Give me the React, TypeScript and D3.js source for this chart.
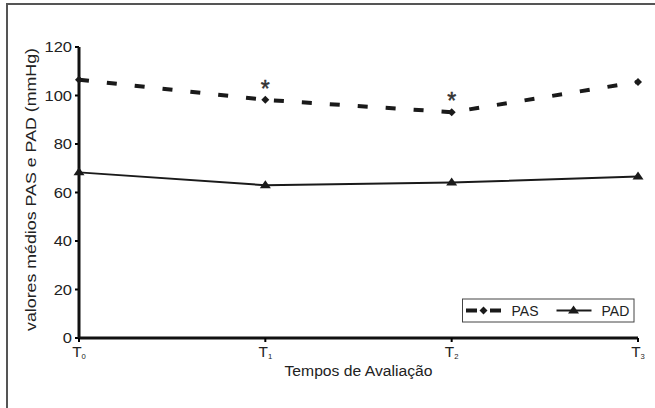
import React from 'react'
import * as d3 from 'd3'

const tempos = ['0', '1', '2', '3']
const pas = [106.5, 98.2, 93.1, 105.6]
const pad = [68.3, 63, 64.1, 66.6]
const signif = [false, true, true, false]
const yTicks = [0, 20, 40, 60, 80, 100, 120]

export default function App() {
  const width = 655
  const height = 408
  const margin = { top: 47, right: 17, bottom: 70, left: 79 }
  const innerW = width - margin.left - margin.right
  const innerH = height - margin.top - margin.bottom

  const x = d3.scalePoint<string>().domain(tempos).range([0, innerW])
  const y = d3.scaleLinear().domain([0, 120]).range([innerH, 0])

  const line = d3.line<number>()
    .x((_, i) => x(tempos[i]) ?? 0)
    .y(d => y(d))

  const font = 'Liberation Sans, Arial, sans-serif'
  const diamond = (cx: number, cy: number, r = 4) =>
    `M${cx},${cy - r}L${cx + r},${cy}L${cx},${cy + r}L${cx - r},${cy}Z`
  const tri = (cx: number, cy: number) =>
    `M${cx},${cy - 5}L${cx + 5.5},${cy + 3}L${cx - 5.5},${cy + 3}Z`

  return (
    <svg width={width} height={height} style={{ position: 'absolute', left: 0, top: 0 }}>
      <rect x={0} y={0} width={width} height={height} fill="#fff" />
      <path d={`M7,${height}V4H${width}`} fill="none" stroke="#555" strokeWidth={2} />
      <g transform={`translate(${margin.left},${margin.top})`} fontFamily={font} fontSize={14} fill="#222">
        {/* eixo y */}
        {yTicks.map(t => (
          <g key={t} transform={`translate(0,${y(t)})`}>
            <line x1={-4} x2={0} stroke="#000" strokeWidth={2} />
            <text transform="translate(-7,0) scale(1.18,1)" dy="0.36em" textAnchor="end">{t}</text>
          </g>
        ))}
        <line x1={0} x2={0} y1={y(120)} y2={y(0)} stroke="#111" strokeWidth={3} />
        {/* eixo x */}
        <line x1={0} x2={innerW} y1={y(0)} y2={y(0)} stroke="#111" strokeWidth={3} />
        {tempos.map(t => (
          <g key={t} transform={`translate(${x(t)},${y(0)})`}>
            <line y1={0} y2={4} stroke="#000" strokeWidth={2} />
            <text transform="translate(0,19) scale(1.1,1)" textAnchor="middle">
              T<tspan fontSize={7} dy={2}>{t}</tspan>
            </text>
          </g>
        ))}
        <text x={innerW / 2} y={innerH + 38} textAnchor="middle"
          textLength={148} lengthAdjust="spacingAndGlyphs">
          Tempos de Avaliação
        </text>
        <text transform={`translate(-43,${innerH / 2 - 3}) rotate(-90)`} textAnchor="middle"
          textLength={283} lengthAdjust="spacingAndGlyphs">
          valores médios PAS e PAD (mmHg)
        </text>

        {/* séries */}
        <path d={line(pas) ?? ''} fill="none" stroke="#1a1a1a" strokeWidth={4} strokeDasharray="10 18" />
        <path d={line(pad) ?? ''} fill="none" stroke="#1a1a1a" strokeWidth={2} />
        {pas.map((v, i) => (
          <path key={'s' + i} d={diamond(x(tempos[i]) ?? 0, y(v))} fill="#1a1a1a" />
        ))}
        {pad.map((v, i) => (
          <path key={'d' + i} d={tri(x(tempos[i]) ?? 0, y(v))} fill="#1a1a1a" />
        ))}
        {pas.map((v, i) => signif[i] ? (
          <text key={'a' + i} x={x(tempos[i])} y={y(v) - 3} textAnchor="middle" fontSize={23}
            fill="#333" stroke="#333" strokeWidth={0.5}>*</text>
        ) : null)}

        {/* legenda */}
        <g transform={`translate(${462.5 - margin.left},${299 - margin.top})`}>
          <rect x={0} y={0} width={171.5} height={23} fill="#fff" stroke="#444" strokeWidth={1} />
          <line x1={3.5} x2={38.5} y1={11.5} y2={11.5} stroke="#1a1a1a" strokeWidth={4} strokeDasharray="11 13" />
          <path d={diamond(21, 11.5)} fill="#1a1a1a" />
          <text x={49} y={16.5}>PAS</text>
          <line x1={94} x2={129} y1={11.5} y2={11.5} stroke="#1a1a1a" strokeWidth={2} />
          <path d={tri(111, 11.5)} fill="#1a1a1a" />
          <text x={139} y={16.5}>PAD</text>
        </g>
      </g>
    </svg>
  )
}
